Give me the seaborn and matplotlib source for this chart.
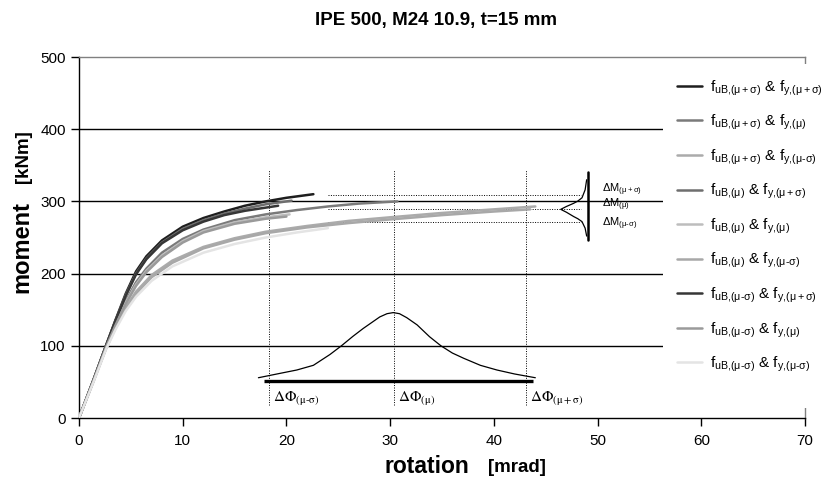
import numpy as np
import pandas as pd
import seaborn as sns
import matplotlib.pyplot as plt
from matplotlib.patches import Rectangle

# moment-rotation curves, values
labels = [
    r"$\mathregular{f_{uB{,}(μ+σ)}}$ & $\mathregular{f_{y{,}(μ+σ)}}$",
    r"$\mathregular{f_{uB{,}(μ+σ)}}$ & $\mathregular{f_{y{,}(μ)}}$",
    r"$\mathregular{f_{uB{,}(μ+σ)}}$ & $\mathregular{f_{y{,}(μ\text{-}σ)}}$",
    r"$\mathregular{f_{uB{,}(μ)}}$ & $\mathregular{f_{y{,}(μ+σ)}}$",
    r"$\mathregular{f_{uB{,}(μ)}}$ & $\mathregular{f_{y{,}(μ)}}$",
    r"$\mathregular{f_{uB{,}(μ)}}$ & $\mathregular{f_{y{,}(μ\text{-}σ)}}$",
    r"$\mathregular{f_{uB{,}(μ\text{-}σ)}}$ & $\mathregular{f_{y{,}(μ+σ)}}$",
    r"$\mathregular{f_{uB{,}(μ\text{-}σ)}}$ & $\mathregular{f_{y{,}(μ)}}$",
    r"$\mathregular{f_{uB{,}(μ\text{-}σ)}}$ & $\mathregular{f_{y{,}(μ\text{-}σ)}}$",
]
colors = ["#1e1e1e", "#7a7a7a", "#ababab", "#6e6e6e", "#bdbdbd",
          "#a8a8a8", "#363636", "#9a9a9a", "#e4e4e4"]

rot_1 = [0, 1.4, 2.6, 3.5, 4.5, 5.5, 6.5, 8, 10, 12, 14, 16, 18, 20, 22.6]
mom_1 = [0, 53, 100, 135, 172, 203, 224, 246, 265, 277, 286, 294, 300, 305, 310]
rot_2 = [0, 1.4, 2.6, 3.5, 4.5, 5.5, 6.5, 8, 10, 12, 15, 18, 21, 24, 27, 30.7]
mom_2 = [0, 52, 98, 130, 162, 188, 207, 229, 248, 261, 274, 282, 288, 293, 297, 300]
rot_3 = [0, 1.4, 2.6, 3.5, 4.5, 5.5, 7, 9, 12, 15, 18, 22, 26, 30, 35, 40, 44]
mom_3 = [0, 51, 96, 125, 153, 175, 198, 218, 237, 249, 258, 266, 273, 278, 284, 289, 293]
rot_4 = [0, 1.4, 2.6, 3.5, 4.5, 5.5, 6.5, 8, 10, 12, 14, 16, 18, 20.5]
mom_4 = [0, 53, 100, 134, 170, 200, 221, 243, 262, 274, 283, 290, 296, 301]
rot_5 = [0, 1.4, 2.6, 3.5, 4.5, 5.5, 6.5, 8, 10, 12, 15, 18, 20.3]
mom_5 = [0, 52, 98, 129, 160, 185, 204, 225, 245, 259, 271, 278, 282]
rot_6 = [0, 1.4, 2.6, 3.5, 4.5, 5.5, 7, 9, 12, 15, 18, 22, 26, 30, 35, 40, 43.5]
mom_6 = [0, 51, 96, 124, 151, 172, 195, 215, 235, 247, 256, 264, 270, 275, 281, 286, 289]
rot_7 = [0, 1.4, 2.6, 3.5, 4.5, 5.5, 6.5, 8, 10, 12, 14, 16, 19.2]
mom_7 = [0, 53, 100, 134, 169, 199, 220, 242, 260, 272, 281, 287, 294]
rot_8 = [0, 1.4, 2.6, 3.5, 4.5, 5.5, 6.5, 8, 10, 12, 15, 18, 20.0]
mom_8 = [0, 52, 98, 128, 158, 183, 202, 223, 243, 257, 269, 276, 279]
rot_9 = [0, 1.4, 2.6, 3.5, 4.5, 5.5, 7, 9, 12, 15, 18, 21, 24]
mom_9 = [0, 50, 95, 122, 148, 168, 190, 210, 229, 241, 250, 257, 263]

rots = [rot_1, rot_2, rot_3, rot_4, rot_5, rot_6, rot_7, rot_8, rot_9]
moms = [mom_1, mom_2, mom_3, mom_4, mom_5, mom_6, mom_7, mom_8, mom_9]

# spread of rotation capacity (bell sketch)
bell_x = [17.3, 19.4, 21.0, 22.6, 24.2, 25.3, 26.4, 27.4, 28.3, 29.0, 29.7, 30.3,
          30.9, 31.6, 32.6, 33.8, 34.9, 36.0, 37.1, 38.7, 40.3, 42.0, 44.0]
bell_y = [55.8, 61.9, 66.5, 73, 88, 100, 113, 124, 133, 140, 144.5, 146,
          144.5, 139, 129, 112.6, 100, 90, 82.7, 73, 66.5, 61, 55.8]
base_x = [17.8, 43.8]
base_y = [51, 51]
dphi_x = [18.3, 30.4, 43.1]
dphi_text = [r"$\Delta\Phi_{(\mathrm{μ\text{-}σ})}$", r"$\Delta\Phi_{(\mathrm{μ})}$",
             r"$\Delta\Phi_{(\mathrm{μ+σ})}$"]

# spread of moment capacity (sideways bell)
mbell_x = [48.95, 48.8, 48.5, 48.1, 47.7, 47.0, 46.45, 47.0, 47.7, 48.1, 48.5, 48.8, 48.95]
mbell_y = [330, 316, 305, 300.5, 297.4, 293, 289, 285, 279, 276, 272, 263, 252]
dm_y = [308.9, 289.5, 271.5]
dm_label_y = [312.5, 292, 265.5]
dm_text = [r"$\mathregular{\Delta M_{(μ+σ)}}$", r"$\mathregular{\Delta M_{(μ)}}$",
           r"$\mathregular{\Delta M_{(μ\text{-}σ)}}$"]

sns.set_theme(style="white")
plt.rcParams["font.family"] = ["Liberation Sans", "DejaVu Sans"]
plt.rcParams["text.color"] = "black"
plt.rcParams["axes.labelcolor"] = "black"
plt.rcParams["xtick.color"] = "black"
plt.rcParams["ytick.color"] = "black"
plt.rcParams["mathtext.fontset"] = "custom"
plt.rcParams["mathtext.rm"] = "Liberation Sans"
plt.rcParams["mathtext.it"] = "Liberation Sans:italic"
plt.rcParams["mathtext.bf"] = "Liberation Sans:bold"

fig = plt.figure(figsize=(8.28, 4.79), dpi=100)
ax = fig.add_axes([0.0954, 0.1273, 0.8768, 0.7537])

for y in [100, 200, 300, 400]:
    ax.axhline(y, color="black", lw=1, zorder=1)

for i in range(9):
    df = pd.DataFrame({"rotation": rots[i], "moment": moms[i]})
    sns.lineplot(data=df, x="rotation", y="moment", ax=ax, color=colors[i],
                 lw=1.8, label=labels[i], sort=False, zorder=3, legend=False)

# rotation spread sketch
ax.plot(bell_x, bell_y, color="black", lw=0.9, zorder=4)
ax.plot(base_x, base_y, color="black", lw=2.4, zorder=4, solid_capstyle="butt")
for x, t in zip(dphi_x, dphi_text):
    ax.plot([x, x], [18, 343], color="black", lw=0.7, ls=(0, (1, 1.5)), zorder=2)
    ax.text(x + 0.4, 22.5, t, fontsize=11, va="baseline", ha="left", math_fontfamily="stix")

# moment spread sketch
ax.plot([49.05, 49.05], [246.5, 341], color="black", lw=1.8, zorder=4)
ax.plot(mbell_x, mbell_y, color="black", lw=0.9, zorder=4)
for y in dm_y:
    ax.plot([24, 48.4], [y, y], color="black", lw=0.7, ls=(0, (1, 1.5)), zorder=2)
for y, t in zip(dm_label_y, dm_text):
    ax.text(50.4, y, t, fontsize=8, va="baseline", ha="left")

ax.set_xlim(0, 70)
ax.set_ylim(0, 500)
ax.set_xticks(range(0, 71, 10))
ax.set_yticks(range(0, 501, 100))
ax.tick_params(axis="both", direction="out", length=5.5, width=1, color="black",
               labelsize=11, bottom=True, left=True)
ax.tick_params(axis="x", pad=6)
ax.tick_params(axis="y", pad=4)
ax.set_xlabel("")
ax.set_ylabel("")
for side in ["left", "bottom"]:
    ax.spines[side].set_color("black")
    ax.spines[side].set_linewidth(1)
for side in ["top", "right"]:
    ax.spines[side].set_color("#808080")
    ax.spines[side].set_linewidth(1)

# white legend area lying over the plot's right edge
W, H = 828.0, 479.0
fig.patches.append(Rectangle((663 / W, (H - 408) / H), (W - 663) / W, (408 - 64) / H,
                             transform=fig.transFigure, facecolor="white",
                             edgecolor="none", zorder=1))
handles = ax.get_lines()[4:13]
leg = fig.legend(handles, labels, loc="upper left", bbox_to_anchor=(665 / W, (H - 66) / H),
                 frameon=False, fontsize=11, handlelength=1.65, handletextpad=0.5,
                 labelspacing=1.0, borderpad=0.3)
for line in leg.get_lines():
    line.set_linewidth(1.8)

fig.text(0.527, 0.958, "IPE 500, M24 10.9, t=15 mm", fontsize=13.5, fontweight="bold",
         ha="center", va="center")
fig.text(385 / W, (H - 473) / H, "rotation", fontsize=16.5, fontweight="bold",
         ha="left", va="baseline")
fig.text(488 / W, (H - 472) / H, "[mrad]", fontsize=13.5, fontweight="bold",
         ha="left", va="baseline")
fig.text(28 / W, (H - 293) / H, "moment", fontsize=17, fontweight="bold", rotation=90,
         rotation_mode="anchor", ha="left", va="baseline")
fig.text(28 / W, (H - 183) / H, "[kNm]", fontsize=13.5, fontweight="bold", rotation=90,
         rotation_mode="anchor", ha="left", va="baseline")

fig.savefig("out.png", dpi=100)
